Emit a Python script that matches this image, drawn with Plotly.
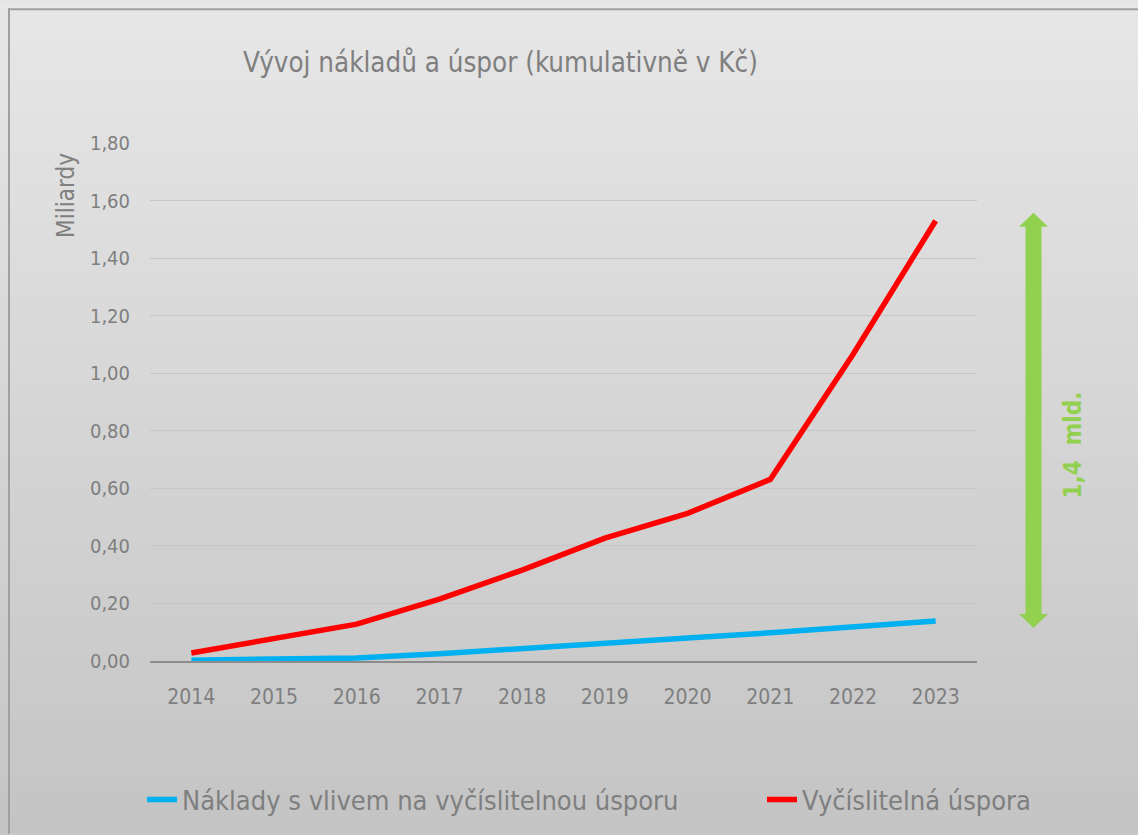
import plotly.graph_objects as go

years = ["2014", "2015", "2016", "2017", "2018", "2019", "2020", "2021", "2022", "2023"]
naklady = [0.003, 0.007, 0.010, 0.025, 0.042, 0.060, 0.080, 0.098, 0.118, 0.139]
uspora = [0.028, 0.076, 0.128, 0.215, 0.316, 0.427, 0.513, 0.631, 1.065, 1.530]
y_ticks = [0, 0.2, 0.4, 0.6, 0.8, 1.0, 1.2, 1.4, 1.6, 1.8]

W, H = 1138, 835
L, R, T, B = 150, 977, 143, 662


def px(x):
    return (x - L) / (R - L)


def py(y):
    return (B - y) / (B - T)


FONT = "DejaVu Sans Condensed"
GRAY = "#7f7f7f"

fig = go.Figure()
fig.add_trace(go.Scatter(x=years, y=naklady, mode="lines", name="Náklady s vlivem na vyčíslitelnou úsporu",
                         line=dict(color="#00b0f0", width=5.5), legend="legend"))
fig.add_trace(go.Scatter(x=years, y=uspora, mode="lines", name="Vyčíslitelná úspora",
                         line=dict(color="#ff0000", width=5.5), legend="legend2"))

shapes = []
# gradient background
n = 60
for i in range(n):
    y0 = H * i / n
    y1 = H * (i + 1) / n + 1
    t = (i + 0.5) / n
    c = round(231 - (231 - 196) * t)
    shapes.append(dict(type="rect", xref="paper", yref="paper", x0=px(0), x1=px(W), y0=py(y1), y1=py(y0),
                       fillcolor=f"rgb({c},{c},{c})", line=dict(width=0), layer="below"))
# frame
shapes.append(dict(type="line", xref="paper", yref="paper", x0=px(8), x1=px(W), y0=py(9), y1=py(9),
                   line=dict(color="#a0a0a0", width=2), layer="below"))
shapes.append(dict(type="line", xref="paper", yref="paper", x0=px(9), x1=px(9), y0=py(8), y1=py(H),
                   line=dict(color="#a0a0a0", width=2), layer="below"))
# double arrow
pts = [(1033.5, 213), (1048, 227), (1041.5, 227), (1041.5, 615), (1048, 615), (1033.5, 629),
       (1019, 615), (1025.5, 615), (1025.5, 227), (1019, 227)]
path = "M " + " L ".join(f"{px(a)},{py(b)}" for a, b in pts) + " Z"
shapes.append(dict(type="path", xref="paper", yref="paper", path=path, fillcolor="#92d050",
                   line=dict(width=0), layer="above"))

legend_common = dict(orientation="h", yanchor="middle", y=py(800), xanchor="left",
                     font=dict(family=FONT, size=27, color=GRAY), bgcolor="rgba(0,0,0,0)",
                     itemwidth=30)

fig.update_layout(
    width=W, height=H,
    margin=dict(l=L, r=W - R, t=T, b=H - B),
    paper_bgcolor="#d6d6d6",
    plot_bgcolor="rgba(0,0,0,0)",
    separators=", ",
    shapes=shapes,
    showlegend=True,
    legend=dict(legend_common, x=px(142)),
    legend2=dict(legend_common, x=px(762)),
    xaxis=dict(range=[-0.5, 9.5], showgrid=False, showline=True, linecolor="#8c8c8c", linewidth=2,
               tickfont=dict(family=FONT, size=21, color=GRAY), ticks="", zeroline=False,
               ticklabelstandoff=16),
    yaxis=dict(range=[0, 1.8], tickvals=y_ticks, tickformat=".2f", showgrid=True, gridcolor="#c6c6c6",
               gridwidth=1, zeroline=False, showline=False, ticks="",
               tickfont=dict(family=FONT, size=20, color=GRAY), ticklabelstandoff=19),
    annotations=[
        dict(text="Vývoj nákladů a úspor (kumulativně v Kč)", xref="paper", yref="paper",
             x=px(500), y=py(62), xanchor="center", yanchor="middle", showarrow=False,
             font=dict(family=FONT, size=27.5, color=GRAY)),
        dict(text="Miliardy", xref="paper", yref="paper", x=px(66), y=py(196), textangle=-90,
             xanchor="center", yanchor="middle", showarrow=False,
             font=dict(family=FONT, size=24, color=GRAY)),
        dict(text="<b>1,4  mld.</b>", xref="paper", yref="paper", x=px(1073), y=py(446), textangle=-90,
             xanchor="center", yanchor="middle", showarrow=False,
             font=dict(family=FONT, size=24, color="#92d050")),
    ],
)

fig.write_html("out.html", config={"displayModeBar": False},
               post_script="document.body.style.margin='0';document.body.style.overflow='hidden';")
